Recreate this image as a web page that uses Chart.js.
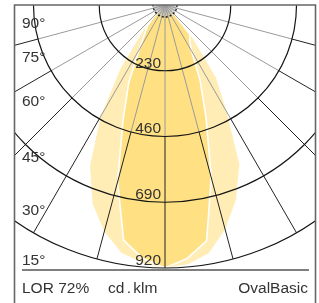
<!DOCTYPE html>
<html>
<head>
<meta charset="utf-8">
<script src="https://cdn.jsdelivr.net/npm/chart.js@4.4.1/dist/chart.umd.min.js"></script>
<style>
  body { margin: 0; background: #fff; }
  #wrap { position: relative; width: 319px; height: 303px; overflow: hidden; }
  #chart { position: absolute; left: 0; top: 0; }
  .foot { position: absolute; top: 279px; line-height: 16px; font: 15.5px "Liberation Sans", Arial, sans-serif; color: #333; white-space: nowrap; }
</style>
</head>
<body>
<div id="wrap">
  <canvas id="chart" width="319" height="303"></canvas>
  <div class="foot" style="left:22px">LOR 72%</div>
  <div class="foot" style="left:108px; word-spacing:-2px">cd . klm</div>
  <div class="foot" style="right:11px">OvalBasic</div>
</div>
<script>
// gamma angles (deg from nadir) and intensities in cd/klm
const gammas = [0, 5, 10, 15, 20, 25, 30, 35, 40, 45, 50];
const c0Left = [920, 905, 880, 820, 740, 620, 450, 270, 120, 40, 0];
const c0Right = [920, 910, 882, 812, 725, 615, 430, 310, 145, 50, 0];
const c90Left = [920, 890, 835, 640, 430, 300, 180, 125, 95, 50, 0];
const c90Right = [920, 890, 838, 625, 420, 290, 185, 150, 135, 50, 0];

const rings = [230, 460, 690, 920];
const spokes = [-75, -60, -45, -30, -15, 0, 15, 30, 45, 60, 75];
const angleLabels = ['90°', '75°', '60°', '45°', '30°', '15°'];
const angleLabelY = [28, 62, 106, 162, 215, 265];

const font = '15.5px "Liberation Sans", Arial, sans-serif';

// polar -> x/y in cd units (centre at top, 0° pointing down)
function outline(left, right) {
  const pts = [];
  for (let i = gammas.length - 1; i >= 0; i--) {
    const t = gammas[i] * Math.PI / 180;
    pts.push({ x: -left[i] * Math.sin(t), y: -left[i] * Math.cos(t) });
  }
  for (let i = 1; i < gammas.length; i++) {
    const t = gammas[i] * Math.PI / 180;
    pts.push({ x: right[i] * Math.sin(t), y: -right[i] * Math.cos(t) });
  }
  return pts;
}

const polarGrid = {
  id: 'polarGrid',
  afterDatasetsDraw(chart) {
    const { ctx, chartArea: a, scales: { x, y } } = chart;
    const cx = x.getPixelForValue(0);
    const cy = y.getPixelForValue(0);
    const rad = v => y.getPixelForValue(-v) - cy;

    ctx.save();
    ctx.beginPath();
    ctx.rect(a.left, a.top, a.right - a.left, a.bottom - a.top);
    ctx.clip();

    // small rays round the centre
    ctx.strokeStyle = '#bdbdbd';
    ctx.lineWidth = 0.8;
    for (let g = -85; g <= 85; g += 5) {
      const t = g * Math.PI / 180;
      ctx.beginPath();
      ctx.moveTo(cx, cy);
      ctx.lineTo(cx + 12 * Math.sin(t), cy + 12 * Math.cos(t));
      ctx.stroke();
    }

    // spokes: grey inside 460, dark outside
    spokes.forEach(g => {
      const t = g * Math.PI / 180;
      const s = Math.sin(t), c = Math.cos(t);
      const r1 = rad(rings[1]), r2 = rad(rings[3]);
      ctx.strokeStyle = '#9a9a9a';
      ctx.lineWidth = 1;
      ctx.beginPath();
      ctx.moveTo(cx, cy);
      ctx.lineTo(cx + r1 * s, cy + r1 * c);
      ctx.stroke();
      ctx.strokeStyle = '#222';
      ctx.beginPath();
      ctx.moveTo(cx + r1 * s, cy + r1 * c);
      ctx.lineTo(cx + r2 * s, cy + r2 * c);
      ctx.stroke();
    });

    // rings
    ctx.strokeStyle = '#151515';
    ctx.lineWidth = 1.2;
    rings.forEach(v => {
      ctx.beginPath();
      ctx.arc(cx, cy, rad(v), 0, Math.PI);
      ctx.stroke();
    });

    // dashed centre arc
    ctx.setLineDash([2, 2]);
    ctx.lineWidth = 1.4;
    ctx.beginPath();
    ctx.arc(cx, cy, 12, 0, Math.PI);
    ctx.stroke();
    ctx.setLineDash([]);

    // ring values
    ctx.fillStyle = '#333';
    ctx.font = font;
    ctx.textAlign = 'right';
    ctx.textBaseline = 'alphabetic';
    rings.forEach(v => {
      ctx.fillText(String(v), cx - 4, cy + rad(v) - 3);
    });
    ctx.restore();

    // angle labels
    ctx.save();
    ctx.fillStyle = '#333';
    ctx.font = font;
    ctx.textAlign = 'left';
    angleLabels.forEach((t, i) => ctx.fillText(t, 22, angleLabelY[i]));

    // frame and footer rule
    ctx.strokeStyle = '#666';
    ctx.lineWidth = 1.6;
    ctx.beginPath();
    ctx.moveTo(14.5, 303);
    ctx.lineTo(14.5, 5);
    ctx.lineTo(315.5, 5);
    ctx.lineTo(315.5, 303);
    ctx.stroke();
    ctx.strokeStyle = '#555';
    ctx.lineWidth = 1.4;
    ctx.beginPath();
    ctx.moveTo(22, 270);
    ctx.lineTo(309, 270);
    ctx.stroke();
    ctx.restore();
  }
};

new Chart(document.getElementById('chart'), {
  type: 'scatter',
  data: {
    datasets: [
      {
        label: 'C90-C270',
        data: outline(c90Left, c90Right),
        showLine: true,
        fill: 'shape',
        backgroundColor: '#ffe184',
        borderColor: '#ffffff',
        borderWidth: 1.6,
        pointRadius: 0,
        tension: 0
      },
      {
        label: 'C0-C180',
        data: outline(c0Left, c0Right),
        showLine: true,
        fill: 'shape',
        backgroundColor: '#ffedb5',
        borderColor: '#ffedb5',
        borderWidth: 0,
        pointRadius: 0,
        tension: 0
      }
    ]
  },
  options: {
    responsive: false,
    animation: false,
    layout: { padding: { left: 14, right: 3, top: 5, bottom: 33 } },
    scales: {
      x: { type: 'linear', display: false, min: -528, max: 528 },
      y: { type: 'linear', display: false, min: -927, max: 0 }
    },
    plugins: {
      legend: { display: false },
      tooltip: { enabled: false }
    }
  },
  plugins: [polarGrid]
});
</script>
</body>
</html>
